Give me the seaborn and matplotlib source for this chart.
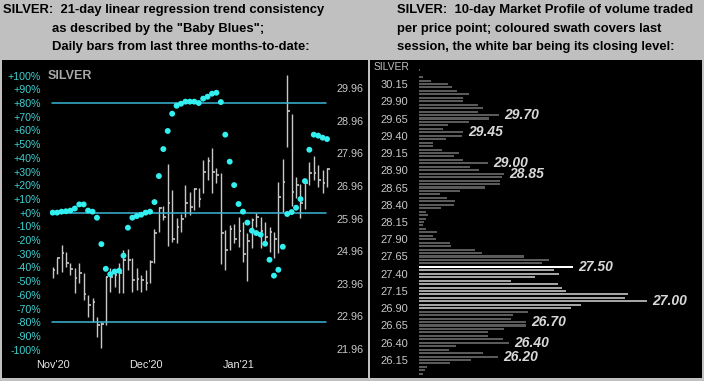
import matplotlib
matplotlib.use("Agg")
import matplotlib.pyplot as plt
import seaborn as sns
from matplotlib.patches import Rectangle

# daily bars, Nov'20 .. end of Jan'21
highs = [24.49, 24.74, 25.15, 24.95, 24.59, 24.43, 24.59, 24.28, 23.62, 23.51,
         22.95, 22.80, 24.21, 24.43, 24.38, 24.59, 25.00, 25.03, 24.74, 24.43,
         24.23, 24.38, 24.69, 25.63, 26.33, 26.35, 27.62, 26.84, 25.97, 26.10,
         26.99, 26.79, 26.89, 26.91, 27.76, 27.84, 28.12, 27.50, 27.35, 25.61,
         25.76, 25.79, 26.02, 25.87, 25.51, 25.97, 26.14, 26.02, 25.85, 25.71,
         25.56, 27.09, 27.78, 30.37, 29.17, 27.25, 27.01, 27.14, 27.71, 27.88,
         27.60, 27.45, 27.50]
lows = [24.13, 24.26, 24.33, 24.49, 24.23, 23.69, 23.97, 23.46, 22.95, 22.80,
        22.34, 21.98, 22.70, 23.72, 23.87, 23.67, 23.67, 24.38, 23.72, 23.77,
        23.72, 23.77, 23.97, 24.59, 25.56, 25.92, 25.13, 25.25, 25.20, 25.56,
        26.02, 26.07, 26.22, 26.33, 26.73, 27.14, 26.73, 27.04, 24.56, 24.38,
        25.00, 25.20, 25.10, 24.64, 24.06, 25.05, 25.71, 25.07, 25.20, 24.95,
        24.74, 24.89, 26.17, 28.17, 26.35, 26.58, 25.97, 26.24, 26.99, 27.14,
        26.94, 26.76, 26.94]
closes = [24.38, 24.74, 24.89, 24.59, 24.41, 24.13, 24.28, 23.65, 23.31, 23.41,
          22.70, 22.73, 24.18, 24.18, 24.23, 24.30, 24.69, 24.69, 24.08, 24.10,
          24.08, 23.97, 24.64, 25.51, 26.27, 26.02, 26.43, 25.33, 25.71, 25.95,
          26.45, 26.33, 26.86, 26.55, 27.40, 27.74, 27.40, 27.30, 25.53, 25.00,
          25.64, 25.32, 25.59, 24.87, 25.28, 25.92, 26.02, 25.58, 25.41, 25.54,
          25.34, 26.63, 27.09, 29.27, 26.79, 26.99, 26.43, 27.06, 27.37, 27.35,
          27.14, 27.06, 27.47]

# "Baby Blues": 21-day linear regression trend consistency (%)
trend_pct = [0, 0, 0.7, 1, 1.5, 3, 6, 6, 1.5, 0.7,
             -3.7, -23, -41, -45, -43, -42.4, -31.4, -11, -3.7, -2.5,
             -1.5, 0, 0.7, 7.7, 26.7, 46.4, 59.6, 72.2, 78, 79.5,
             81, 81, 81, 80, 83.2, 84.6, 86.8, 87.5, 80.7, 56.9,
             37.2, 20.1, 6.3, 0.7, -7.3, -13.2, -14.9, -16.1, -22.7, -34.4,
             -46, -41.7, -24.9, -1, 0.4, 3.6, 9.9, 23, 45.9, 56.9,
             56.2, 54.7, 53.7]

month_pos = [0, 21, 42]
month_labels = ["Nov'20", "Dec'20", "Jan'21"]
pct_ticks = [-100, -90, -80, -70, -60, -50, -40, -30, -20, -10, 0,
             10, 20, 30, 40, 50, 60, 70, 80, 90, 100]
price_ticks = [21.96, 22.96, 23.96, 24.96, 25.96, 26.96, 27.96, 28.96, 29.96]
baby_blue_levels = [80, 0, -80]

# 10-day market profile: price level -> volume
profile_levels = [30.35, 30.30, 30.25, 30.20, 30.15, 30.10, 30.05, 30.00, 29.95, 29.90,
                  29.85, 29.80, 29.75, 29.70, 29.65, 29.60, 29.55, 29.50, 29.45, 29.40,
                  29.35, 29.30, 29.25, 29.20, 29.15, 29.10, 29.05, 29.00, 28.95, 28.90,
                  28.85, 28.80, 28.75, 28.70, 28.65, 28.60, 28.55, 28.50, 28.45, 28.40,
                  28.35, 28.30, 28.25, 28.20, 28.15, 28.10, 28.05, 28.00, 27.95, 27.90,
                  27.85, 27.80, 27.75, 27.70, 27.65, 27.60, 27.55, 27.50, 27.45, 27.40,
                  27.35, 27.30, 27.25, 27.20, 27.15, 27.10, 27.05, 27.00, 26.95, 26.90,
                  26.85, 26.80, 26.75, 26.70, 26.65, 26.60, 26.55, 26.50, 26.45, 26.40,
                  26.35, 26.30, 26.25, 26.20, 26.15, 26.10, 26.05, 26.00, 25.95]
profile_volume = [1, 0, 4, 12, 29, 33, 38, 50, 44, 44,
                  59, 64, 59, 80, 70, 50, 29, 24, 44, 43,
                  27, 14, 14, 23, 40, 35, 44, 69, 51, 60,
                  85, 83, 81, 81, 66, 41, 21, 28, 36, 35,
                  22, 7, 9, 7, 5, 4, 7, 18, 14, 17,
                  31, 32, 56, 63, 105, 130, 123, 154, 135, 140,
                  116, 92, 139, 143, 147, 209, 206, 228, 162, 152,
                  109, 94, 92, 107, 107, 85, 69, 69, 84, 90,
                  37, 30, 64, 79, 52, 31, 8, 6, 4]
profile_ticks = [26.15, 26.40, 26.65, 26.90, 27.15, 27.40, 27.65, 27.90, 28.15,
                 28.40, 28.65, 28.90, 29.15, 29.40, 29.65, 29.90, 30.15]
labelled_levels = [29.70, 29.45, 29.00, 28.85, 27.50, 27.00, 26.70, 26.40, 26.20]
session_low = 26.90
session_close = 27.50

sns.set_style("dark", {"axes.facecolor": "none", "axes.grid": False})
plt.rcParams['font.family'] = ['Liberation Sans', 'DejaVu Sans']

W, H = 704, 381
fig = plt.figure(figsize=(W / 100, H / 100), dpi=100, facecolor='#c0c0c0')


def px_box(x0, y0, x1, y1):
    return [x0 / W, 1 - y1 / H, (x1 - x0) / W, (y1 - y0) / H]


for x0, x1 in [(2, 368), (370, 702)]:
    b = px_box(x0, 60, x1, 378)
    fig.patches.append(Rectangle((b[0], b[1]), b[2], b[3], transform=fig.transFigure,
                                 facecolor='black', edgecolor='none', zorder=-5))

# titles
title_kw = dict(fontsize=9.4, fontweight='bold', color='black', va='center')
fig.text(3 / W, 1 - 10 / H, "SILVER:  21-day linear regression trend consistency", **title_kw)
fig.text(52 / W, 1 - 29 / H, "as described by the \"Baby Blues\";", **title_kw)
fig.text(52 / W, 1 - 47 / H, "Daily bars from last three months-to-date:", **title_kw)
fig.text(397 / W, 1 - 10 / H, "SILVER:  10-day Market Profile of volume traded", **title_kw)
fig.text(397 / W, 1 - 29 / H, "per price point; coloured swath covers last", **title_kw)
fig.text(397 / W, 1 - 47 / H, "session, the white bar being its closing level:", **title_kw)

# ---- left panel: bars + baby blues ----
ax = fig.add_axes(px_box(50, 60, 332, 378))
axp = ax.twinx()
idx = list(range(len(closes)))
ax.set_xlim(-0.61, 63.12)
ax.set_ylim(-120.7, 111.4)
axp.set_ylim(21.07, 30.825)

bar_col = '#c8c8c8'
axp.vlines(idx, lows, highs, color=bar_col, lw=1)
axp.hlines(closes, idx, [i + 0.6 for i in idx], color=bar_col, lw=1.2)

for lvl in baby_blue_levels:
    ax.axhline(lvl, xmin=0.007, xmax=0.979, color='#3cb6d8', lw=1.1, zorder=1)
sns.scatterplot(x=idx, y=trend_pct, ax=ax, color='#33f0f0', s=18,
                edgecolor='none', linewidth=0, zorder=3)
ax.set_zorder(axp.get_zorder() + 1)
ax.patch.set_visible(False)

ax.set_yticks(pct_ticks)
ax.set_yticklabels([f"{t:+d}%" if t != 0 else "+0%" for t in pct_ticks])
ax.tick_params(axis='y', length=0, pad=6.5, labelsize=7.7, labelcolor='#3fd0d0')
ax.set_xticks(month_pos)
ax.set_xticklabels(month_labels)
ax.tick_params(axis='x', length=0, pad=-13, labelsize=7.8, labelcolor='#e8e8e8')
axp.set_yticks(price_ticks)
axp.set_yticklabels([f"{t:.2f}" for t in price_ticks])
axp.tick_params(axis='y', length=0, pad=3, labelsize=7.8, labelcolor='#c8c8c8')
for a in (ax, axp):
    for s in a.spines.values():
        s.set_visible(False)
ax.text(-0.007, 0.95, "SILVER", transform=ax.transAxes, color='#a8a8a8',
        fontsize=9, fontweight='bold', va='center', ha='left')

# ---- right panel: market profile ----
axm = fig.add_axes(px_box(419, 60, 702, 378))
segment = []
for lvl in profile_levels:
    if abs(lvl - session_close) < 1e-6:
        segment.append('close')
    elif session_low - 1e-6 <= lvl < session_close:
        segment.append('session')
    else:
        segment.append('prior')
sns.barplot(x=profile_volume, y=profile_levels, hue=segment, orient='y', native_scale=True,
            palette={'prior': '#5a5a5a', 'session': '#a4a4a4', 'close': '#ffffff'},
            dodge=False, legend=False, errorbar=None, saturation=1, width=0.6,
            linewidth=0, ax=axm)
axm.set_xlim(0, 283)
axm.set_ylim(25.889, 30.498)
axm.set_yticks(profile_ticks)
axm.set_yticklabels([f"{t:.2f}" for t in profile_ticks])
axm.tick_params(axis='y', length=0, pad=8, labelsize=8, labelcolor='#c8c8c8')
axm.set_xticks([])
axm.set_xlabel("")
axm.set_ylabel("")
for s in axm.spines.values():
    s.set_visible(False)
for lvl in labelled_levels:
    vol = profile_volume[profile_levels.index(lvl)]
    axm.annotate(f"{lvl:.2f}", xy=(vol, lvl), xytext=(3.5, 0), textcoords='offset points',
                 ha='left', va='center', fontsize=10, fontweight='bold',
                 fontstyle='italic', color='#d8d8d8')
fig.text(374 / W, 1 - 67 / H, "SILVER", color='#c0c0c0', fontsize=7.4, va='center')

fig.savefig("out.png", dpi=100, facecolor=fig.get_facecolor())
